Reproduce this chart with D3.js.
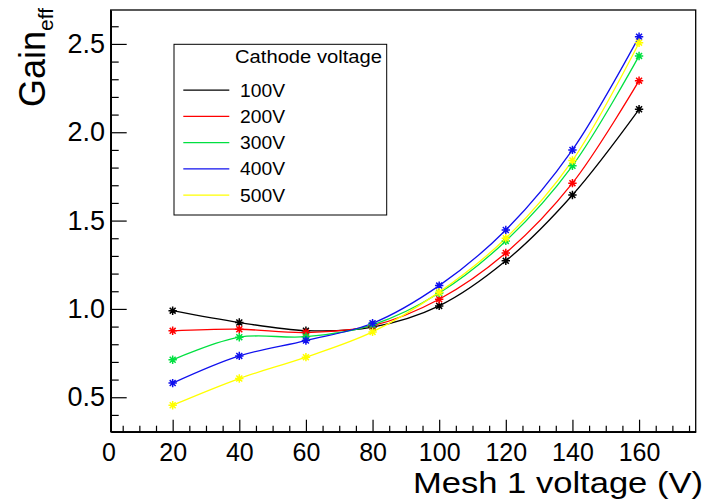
<!DOCTYPE html>
<html>
<head>
<meta charset="utf-8">
<script src="https://cdn.jsdelivr.net/npm/d3@7"></script>
<style>
  html, body { margin: 0; padding: 0; background: #fff; }
  svg { display: block; font-family: "Liberation Sans", Arial, Helvetica, sans-serif; }
</style>
</head>
<body>
<svg id="chart" width="706" height="503"></svg>
<script>
// ---- data ----
const mesh = [20, 40, 60, 80, 100, 120, 140, 160];
const seriesNames = ["100V", "200V", "300V", "400V", "500V"];
const v100 = [0.990, 0.923, 0.877, 0.897, 1.017, 1.272, 1.645, 2.130];
const v200 = [0.876, 0.885, 0.866, 0.905, 1.055, 1.317, 1.712, 2.292];
const v300 = [0.712, 0.840, 0.843, 0.910, 1.090, 1.385, 1.810, 2.432];
const v400 = [0.580, 0.734, 0.821, 0.919, 1.132, 1.447, 1.900, 2.541];
const v500 = [0.455, 0.606, 0.727, 0.870, 1.095, 1.400, 1.840, 2.507];
const seriesColors = ["#000000", "#ff0000", "#00e040", "#1010ee", "#ffff00"];
const xTickLabels = [0, 20, 40, 60, 80, 100, 120, 140, 160];
const yTickLabels = [0.5, 1.0, 1.5, 2.0, 2.5];
const legendTitle = "Cathode voltage";
const xTitle = "Mesh 1 voltage (V)";

const allSeries = [v100, v200, v300, v400, v500];

// ---- layout ----
const svg = d3.select("#chart");
const L = 110.7, R = 695.7, T = 10, B = 431.7;

const x = d3.scaleLinear().domain([1.4, 177]).range([L, R]);
const y = d3.scaleLinear().domain([0.305, 2.692]).range([B, T]);

// frame
svg.append("rect").attr("x", L).attr("y", T).attr("width", R - L).attr("height", B - T)
  .attr("fill", "none").attr("stroke", "#000").attr("stroke-width", 1.3);

// x axis minor ticks
const xMinor = d3.range(5, 177, 5).filter(v => v % 20 !== 0);
svg.append("g").attr("transform", `translate(0,${B})`)
  .call(d3.axisBottom(x).tickValues(xMinor).tickSize(-6).tickSizeOuter(0).tickFormat(""))
  .call(g => g.select(".domain").remove())
  .call(g => g.selectAll("line").attr("stroke-width", 1.2));

// x axis major ticks
const xAx = svg.append("g").attr("transform", `translate(0,${B})`)
  .call(d3.axisBottom(x).tickValues(xTickLabels.filter(v => v >= x.domain()[0]))
    .tickSize(-12).tickSizeOuter(0).tickPadding(11.5).tickFormat(d3.format("d")))
  .call(g => g.select(".domain").attr("stroke-width", 1.6));
xAx.selectAll("line").attr("stroke-width", 1.2);
xAx.selectAll("text").attr("font-size", 25).attr("fill", "#000")
  .attr("font-family", "Liberation Sans, Arial, sans-serif");
// label "0" (lies at axis start)
xAx.append("text").attr("x", x(0) + 3).attr("y", 11.5).attr("dy", "0.71em")
  .attr("text-anchor", "middle").attr("font-size", 25).attr("fill", "#000")
  .attr("font-family", "Liberation Sans, Arial, sans-serif").text(xTickLabels[0]);

// y axis minor ticks
const yMinor = d3.range(4, 27).map(v => v / 10).filter(v => Math.round(v * 10) % 5 !== 0);
svg.append("g").attr("transform", `translate(${L},0)`)
  .call(d3.axisLeft(y).tickValues(yMinor).tickSize(-8).tickSizeOuter(0).tickFormat(""))
  .call(g => g.select(".domain").remove())
  .call(g => g.selectAll("line").attr("stroke-width", 1.2));

// y axis major ticks
const yAx = svg.append("g").attr("transform", `translate(${L},0)`)
  .call(d3.axisLeft(y).tickValues(yTickLabels).tickSize(-16).tickSizeOuter(0)
    .tickPadding(5.7).tickFormat(d3.format(".1f")))
  .call(g => g.select(".domain").attr("stroke-width", 1.6));
yAx.selectAll("line").attr("stroke-width", 1.2);
yAx.selectAll("text").attr("font-size", 27).attr("fill", "#000")
  .attr("font-family", "Liberation Sans, Arial, sans-serif");

// axis titles
svg.append("text").attr("x", 413).attr("y", 493)
  .attr("font-size", 29).attr("textLength", 290).attr("lengthAdjust", "spacingAndGlyphs")
  .attr("fill", "#000").text(xTitle);

const yt = svg.append("text").attr("transform", "translate(45,8) rotate(-90)")
  .attr("text-anchor", "end").attr("fill", "#000");
yt.append("tspan").attr("font-size", 36).text("Gain");
yt.append("tspan").attr("font-size", 21).attr("dy", 8).text("eff");

// curves
const line = d3.line().x(d => x(d[0])).y(d => y(d[1])).curve(d3.curveCatmullRom.alpha(0.5));
const plot = svg.append("g");
allSeries.forEach((vals, i) => {
  const pts = mesh.map((m, j) => [m, vals[j]]);
  plot.append("path").datum(pts).attr("d", line).attr("fill", "none")
    .attr("stroke", seriesColors[i]).attr("stroke-width", 1.3);
});
// asterisk markers
const star = r => {
  const a = r * Math.SQRT1_2;
  return `M${-r},0L${r},0M0,${-r}L0,${r}M${-a},${-a}L${a},${a}M${-a},${a}L${a},${-a}`;
};
allSeries.forEach((vals, i) => {
  plot.append("g").selectAll("path").data(mesh.map((m, j) => [m, vals[j]])).join("path")
    .attr("transform", d => `translate(${x(d[0])},${y(d[1])})`)
    .attr("d", star(4.2)).attr("fill", "none")
    .attr("stroke", seriesColors[i]).attr("stroke-width", 1.5);
});

// legend
const lg = svg.append("g");
lg.append("rect").attr("x", 174).attr("y", 44.3).attr("width", 212.7).attr("height", 170.7)
  .attr("fill", "#fff").attr("stroke", "#000").attr("stroke-width", 1);
lg.append("text").attr("x", 235).attr("y", 63.3).attr("font-size", 17.5)
  .attr("textLength", 147).attr("lengthAdjust", "spacingAndGlyphs")
  .attr("fill", "#000").text(legendTitle);
seriesNames.forEach((name, i) => {
  const by = 96.7 + i * 26.25;
  lg.append("line").attr("x1", 183.3).attr("x2", 229.3).attr("y1", by - 6.5).attr("y2", by - 6.5)
    .attr("stroke", seriesColors[i]).attr("stroke-width", 1.3);
  lg.append("text").attr("x", 240).attr("y", by).attr("font-size", 17.5)
    .attr("textLength", 45).attr("lengthAdjust", "spacingAndGlyphs")
    .attr("fill", "#000").text(name);
});
</script>
</body>
</html>
